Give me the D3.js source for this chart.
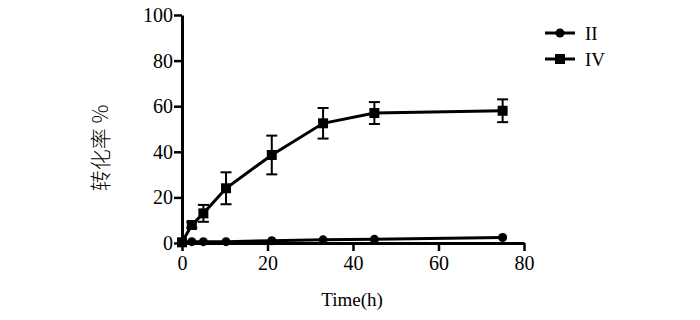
<!DOCTYPE html>
<html>
<head>
<meta charset="utf-8">
<script src="https://cdn.jsdelivr.net/npm/d3@7"></script>
<style>
body { margin: 0; background: #fff; }
</style>
</head>
<body>
<div id="chart"></div>
<script>
var times = [0, 2.3, 5, 10.3, 21, 33, 45, 75];
var seriesII = [0.3, 0.6, 0.6, 0.6, 1.0, 1.4, 1.6, 2.4];
var seriesIV = [0.3, 7.9, 13.0, 24.0, 38.6, 52.5, 57.0, 58.0];
var errIV = [0, 1.2, 3.7, 7.0, 8.5, 6.7, 4.8, 5.0];
var xTicks = [0, 20, 40, 60, 80];
var yTicks = [0, 20, 40, 60, 80, 100];
var legendNames = ["II", "IV"];

var width = 700, height = 320;
var svg = d3.select("#chart").append("svg")
    .attr("width", width)
    .attr("height", height);

var x = d3.scaleLinear().domain([0, 80]).range([182, 524]);
var y = d3.scaleLinear().domain([0, 100]).range([243, 15]);

var serif = "Liberation Serif";

// axes
var xAxis = svg.append("g")
    .attr("transform", "translate(0," + y(0) + ")")
    .call(d3.axisBottom(x).tickValues(xTicks).tickSize(8).tickPadding(2).tickSizeOuter(0));
var yAxis = svg.append("g")
    .attr("transform", "translate(" + x(0) + ",0)")
    .call(d3.axisLeft(y).tickValues(yTicks).tickSize(8).tickPadding(1).tickSizeOuter(0));

[xAxis, yAxis].forEach(function (ax) {
    ax.attr("font-family", serif).attr("font-size", 20);
    ax.select(".domain").attr("stroke", "#000").attr("stroke-width", 3);
    ax.selectAll(".tick line").attr("stroke", "#000").attr("stroke-width", 2.5);
    ax.selectAll(".tick text")
        .attr("fill", "#000")
        .attr("font-family", serif)
        .attr("font-size", 20);
});
xAxis.selectAll(".tick text").attr("dy", "0.85em");

// axis titles
svg.append("text")
    .attr("x", 352)
    .attr("y", 306)
    .attr("text-anchor", "middle")
    .attr("font-family", serif)
    .attr("font-size", 19)
    .text("Time(h)");

svg.append("text")
    .attr("transform", "translate(108,148) rotate(-90)")
    .attr("text-anchor", "middle")
    .attr("font-family", "Noto Sans CJK SC")
    .attr("font-weight", 300)
    .attr("font-size", 21)
    .text("转化率 %");

var line = d3.line()
    .x(function (d) { return x(d.t); })
    .y(function (d) { return y(d.v); });

var dataII = times.map(function (t, i) { return {t: t, v: seriesII[i]}; });
var dataIV = times.map(function (t, i) { return {t: t, v: seriesIV[i], e: errIV[i]}; });

// error bars for IV
var cap = 5.5;
var eb = svg.append("g").attr("stroke", "#000").attr("stroke-width", 2);
dataIV.filter(function (d) { return d.e > 0; }).forEach(function (d) {
    eb.append("line").attr("x1", x(d.t)).attr("x2", x(d.t))
        .attr("y1", y(d.v - d.e)).attr("y2", y(d.v + d.e));
    eb.append("line").attr("x1", x(d.t) - cap).attr("x2", x(d.t) + cap)
        .attr("y1", y(d.v + d.e)).attr("y2", y(d.v + d.e));
    eb.append("line").attr("x1", x(d.t) - cap).attr("x2", x(d.t) + cap)
        .attr("y1", y(d.v - d.e)).attr("y2", y(d.v - d.e));
});

svg.append("path")
    .datum(dataII)
    .attr("fill", "none")
    .attr("stroke", "#000")
    .attr("stroke-width", 3)
    .attr("d", line);

svg.append("path")
    .datum(dataIV)
    .attr("fill", "none")
    .attr("stroke", "#000")
    .attr("stroke-width", 3)
    .attr("d", line);

svg.selectAll(".dotII")
    .data(dataII)
    .enter().append("circle")
    .attr("cx", function (d) { return x(d.t); })
    .attr("cy", function (d) { return y(d.v); })
    .attr("r", 4.5)
    .attr("fill", "#000");

var sq = 10;
svg.selectAll(".sqIV")
    .data(dataIV)
    .enter().append("rect")
    .attr("x", function (d) { return x(d.t) - sq / 2; })
    .attr("y", function (d) { return y(d.v) - sq / 2; })
    .attr("width", sq)
    .attr("height", sq)
    .attr("fill", "#000");

// legend
var legend = svg.append("g");
legendNames.forEach(function (name, i) {
    var ly = 33 + i * 26;
    legend.append("line")
        .attr("x1", 545).attr("x2", 575)
        .attr("y1", ly).attr("y2", ly)
        .attr("stroke", "#000").attr("stroke-width", 3);
    if (i === 0) {
        legend.append("circle").attr("cx", 560).attr("cy", ly).attr("r", 4.5).attr("fill", "#000");
    } else {
        legend.append("rect").attr("x", 555).attr("y", ly - 5).attr("width", 10).attr("height", 10).attr("fill", "#000");
    }
    legend.append("text")
        .attr("x", 585)
        .attr("y", ly)
        .attr("dy", "0.35em")
        .attr("font-family", serif)
        .attr("font-size", 19)
        .text(name);
});
</script>
</body>
</html>
